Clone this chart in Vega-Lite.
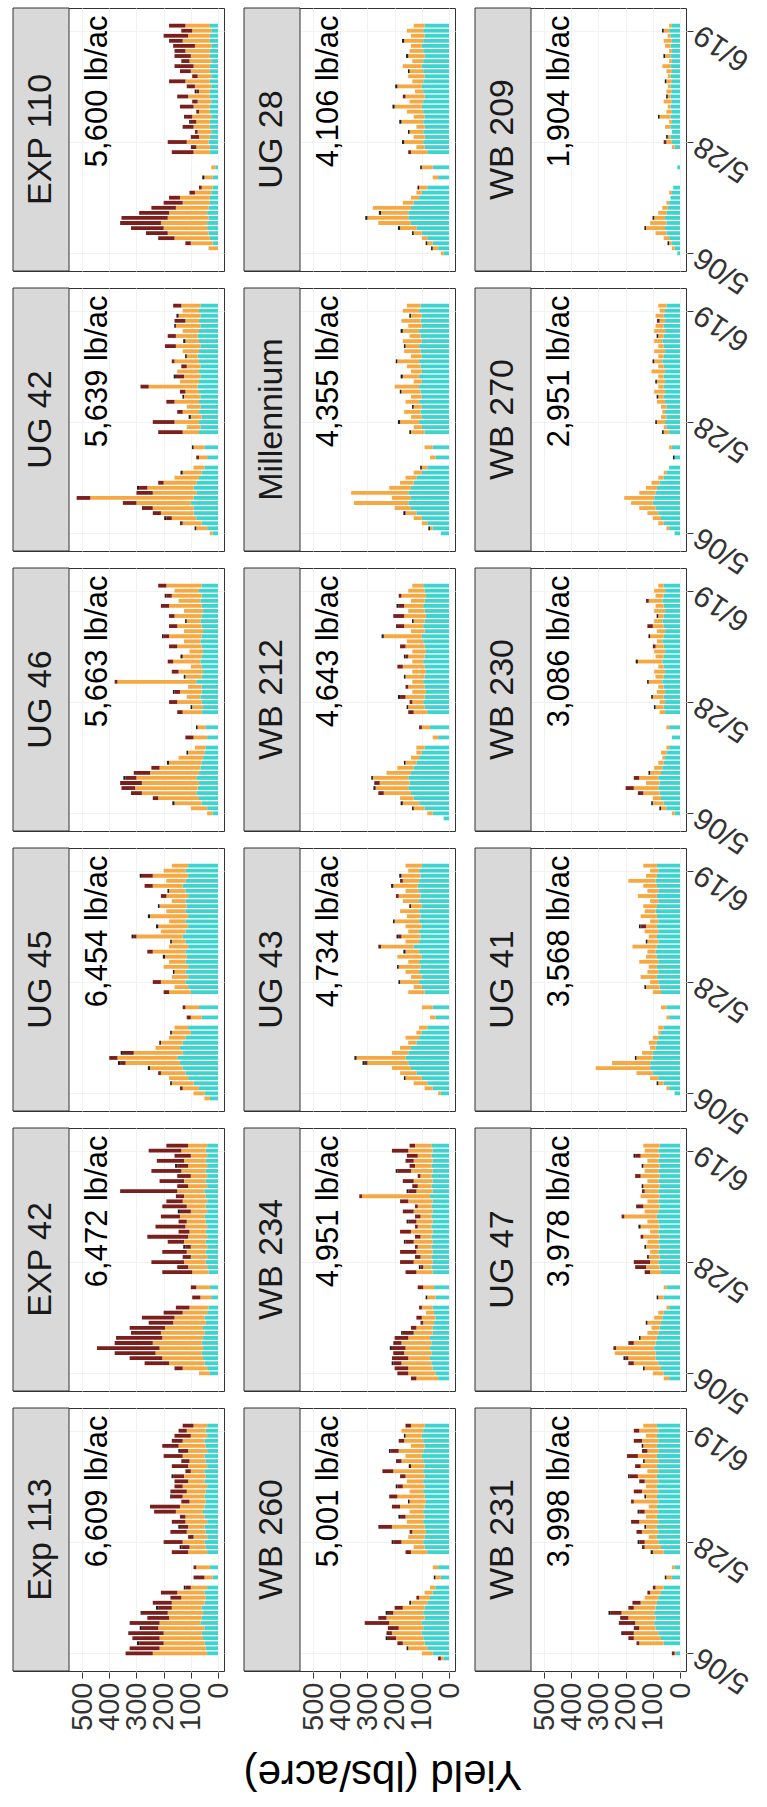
{
"$schema":"https://vega.github.io/schema/vega-lite/v6.json",
"background":"white",
"padding":{"left":12,"top":7,"right":5,"bottom":5},
"datasets":{
"panels":[
{"p":1,"name":"Exp 113","lab":"6,609 lb/ac","row":6,"col":1},
{"p":2,"name":"EXP 42","lab":"6,472 lb/ac","row":5,"col":1},
{"p":3,"name":"UG 45","lab":"6,454 lb/ac","row":4,"col":1},
{"p":4,"name":"UG 46","lab":"5,663 lb/ac","row":3,"col":1},
{"p":5,"name":"UG 42","lab":"5,639 lb/ac","row":2,"col":1},
{"p":6,"name":"EXP 110","lab":"5,600 lb/ac","row":1,"col":1},
{"p":7,"name":"WB 260","lab":"5,001 lb/ac","row":6,"col":2},
{"p":8,"name":"WB 234","lab":"4,951 lb/ac","row":5,"col":2},
{"p":9,"name":"UG 43","lab":"4,734 lb/ac","row":4,"col":2},
{"p":10,"name":"WB 212","lab":"4,643 lb/ac","row":3,"col":2},
{"p":11,"name":"Millennium","lab":"4,355 lb/ac","row":2,"col":2},
{"p":12,"name":"UG 28","lab":"4,106 lb/ac","row":1,"col":2},
{"p":13,"name":"WB 231","lab":"3,998 lb/ac","row":6,"col":3},
{"p":14,"name":"UG 47","lab":"3,978 lb/ac","row":5,"col":3},
{"p":15,"name":"UG 41","lab":"3,568 lb/ac","row":4,"col":3},
{"p":16,"name":"WB 230","lab":"3,086 lb/ac","row":3,"col":3},
{"p":17,"name":"WB 270","lab":"2,951 lb/ac","row":2,"col":3},
{"p":18,"name":"WB 209","lab":"1,904 lb/ac","row":1,"col":3}
],
"yield":[
{"p":1,"d":"2016-05-06","a":40,"b":200,"c":100},
{"p":1,"d":"2016-05-07","a":45,"b":170,"c":110},
{"p":1,"d":"2016-05-08","a":50,"b":150,"c":90,"k":8},
{"p":1,"d":"2016-05-09","a":55,"b":160,"c":100},
{"p":1,"d":"2016-05-10","a":60,"b":140,"c":130},
{"p":1,"d":"2016-05-11","a":50,"b":170,"c":60,"k":8},
{"p":1,"d":"2016-05-12","a":65,"b":150,"c":110},
{"p":1,"d":"2016-05-13","a":60,"b":120,"c":80},
{"p":1,"d":"2016-05-14","a":55,"b":130,"c":100},
{"p":1,"d":"2016-05-15","a":60,"b":110,"c":50,"k":8},
{"p":1,"d":"2016-05-16","a":50,"b":120,"c":70},
{"p":1,"d":"2016-05-17","a":45,"b":90,"c":40},
{"p":1,"d":"2016-05-18","a":50,"b":100,"c":60},
{"p":1,"d":"2016-05-19","a":40,"b":60,"c":20,"k":6},
{"p":1,"d":"2016-05-21","a":20,"b":30,"c":40},
{"p":1,"d":"2016-05-23","a":30,"b":50,"c":10},
{"p":1,"d":"2016-05-26","a":40,"b":70,"c":60},
{"p":1,"d":"2016-05-27","a":45,"b":60,"c":30,"k":6},
{"p":1,"d":"2016-05-28","a":50,"b":80,"c":70},
{"p":1,"d":"2016-05-29","a":40,"b":50,"c":20},
{"p":1,"d":"2016-05-30","a":45,"b":70,"c":60},
{"p":1,"d":"2016-05-31","a":50,"b":60,"c":30,"k":6},
{"p":1,"d":"2016-06-01","a":40,"b":80,"c":50},
{"p":1,"d":"2016-06-02","a":50,"b":70,"c":20},
{"p":1,"d":"2016-06-03","a":55,"b":100,"c":80},
{"p":1,"d":"2016-06-04","a":50,"b":90,"c":110},
{"p":1,"d":"2016-06-05","a":45,"b":60,"c":30},
{"p":1,"d":"2016-06-06","a":50,"b":80,"c":40,"k":6},
{"p":1,"d":"2016-06-07","a":45,"b":70,"c":60},
{"p":1,"d":"2016-06-08","a":40,"b":90,"c":30},
{"p":1,"d":"2016-06-09","a":50,"b":60,"c":50},
{"p":1,"d":"2016-06-10","a":45,"b":80,"c":40,"k":6},
{"p":1,"d":"2016-06-11","a":50,"b":50,"c":20},
{"p":1,"d":"2016-06-12","a":40,"b":70,"c":60},
{"p":1,"d":"2016-06-13","a":45,"b":60,"c":30},
{"p":1,"d":"2016-06-14","a":50,"b":80,"c":70},
{"p":1,"d":"2016-06-15","a":40,"b":70,"c":30,"k":6},
{"p":1,"d":"2016-06-16","a":45,"b":100,"c":60},
{"p":1,"d":"2016-06-17","a":50,"b":80,"c":40},
{"p":1,"d":"2016-06-18","a":40,"b":60,"c":60},
{"p":1,"d":"2016-06-19","a":45,"b":70,"c":30},
{"p":1,"d":"2016-06-20","a":40,"b":50,"c":40},
{"p":2,"d":"2016-05-06","a":30,"b":40},
{"p":2,"d":"2016-05-07","a":40,"b":90,"c":30},
{"p":2,"d":"2016-05-08","a":50,"b":130,"c":90},
{"p":2,"d":"2016-05-09","a":55,"b":150,"c":120},
{"p":2,"d":"2016-05-10","a":60,"b":170,"c":150},
{"p":2,"d":"2016-05-11","a":55,"b":160,"c":230},
{"p":2,"d":"2016-05-12","a":60,"b":180,"c":140},
{"p":2,"d":"2016-05-13","a":55,"b":150,"c":170},
{"p":2,"d":"2016-05-14","a":50,"b":160,"c":110},
{"p":2,"d":"2016-05-15","a":55,"b":140,"c":130},
{"p":2,"d":"2016-05-16","a":45,"b":120,"c":90},
{"p":2,"d":"2016-05-17","a":50,"b":110,"c":120},
{"p":2,"d":"2016-05-18","a":40,"b":90,"c":70},
{"p":2,"d":"2016-05-19","a":35,"b":70,"c":50},
{"p":2,"d":"2016-05-21","a":25,"b":40,"c":30},
{"p":2,"d":"2016-05-23","a":30,"b":50,"c":20},
{"p":2,"d":"2016-05-26","a":35,"b":60,"c":110},
{"p":2,"d":"2016-05-27","a":40,"b":70,"c":40},
{"p":2,"d":"2016-05-28","a":45,"b":80,"c":120},
{"p":2,"d":"2016-05-29","a":40,"b":60,"c":30},
{"p":2,"d":"2016-05-30","a":45,"b":70,"c":90},
{"p":2,"d":"2016-05-31","a":40,"b":60,"c":20,"k":8},
{"p":2,"d":"2016-06-01","a":45,"b":80,"c":60},
{"p":2,"d":"2016-06-02","a":40,"b":70,"c":150},
{"p":2,"d":"2016-06-03","a":45,"b":60,"c":40},
{"p":2,"d":"2016-06-04","a":40,"b":80,"c":110},
{"p":2,"d":"2016-06-05","a":45,"b":70,"c":30},
{"p":2,"d":"2016-06-06","a":50,"b":90,"c":70},
{"p":2,"d":"2016-06-07","a":40,"b":60,"c":40,"k":8},
{"p":2,"d":"2016-06-08","a":45,"b":70,"c":90},
{"p":2,"d":"2016-06-09","a":40,"b":90,"c":60},
{"p":2,"d":"2016-06-10","a":45,"b":80,"c":30},
{"p":2,"d":"2016-06-11","a":50,"b":100,"c":210},
{"p":2,"d":"2016-06-12","a":40,"b":70,"c":40},
{"p":2,"d":"2016-06-13","a":45,"b":80,"c":90},
{"p":2,"d":"2016-06-14","a":40,"b":60,"c":50},
{"p":2,"d":"2016-06-15","a":45,"b":90,"c":110},
{"p":2,"d":"2016-06-16","a":40,"b":70,"c":40,"k":8},
{"p":2,"d":"2016-06-17","a":45,"b":80,"c":100},
{"p":2,"d":"2016-06-18","a":40,"b":60,"c":60},
{"p":2,"d":"2016-06-19","a":45,"b":90,"c":120},
{"p":2,"d":"2016-06-20","a":40,"b":70,"c":80},
{"p":3,"d":"2016-05-05","a":30,"b":20},
{"p":3,"d":"2016-05-06","a":50,"b":40},
{"p":3,"d":"2016-05-07","a":70,"b":60,"c":10},
{"p":3,"d":"2016-05-08","a":90,"b":80,"k":6},
{"p":3,"d":"2016-05-09","a":110,"b":70},
{"p":3,"d":"2016-05-10","a":120,"b":90,"c":10},
{"p":3,"d":"2016-05-11","a":130,"b":120,"k":8},
{"p":3,"d":"2016-05-12","a":140,"b":200,"c":20,"k":8},
{"p":3,"d":"2016-05-13","a":150,"b":220,"c":30},
{"p":3,"d":"2016-05-14","a":130,"b":180,"c":40,"k":8},
{"p":3,"d":"2016-05-15","a":140,"b":90},
{"p":3,"d":"2016-05-16","a":130,"b":80,"k":6},
{"p":3,"d":"2016-05-17","a":120,"b":60},
{"p":3,"d":"2016-05-18","a":100,"b":70,"k":6},
{"p":3,"d":"2016-05-19","a":110,"b":50},
{"p":3,"d":"2016-05-21","a":60,"b":40,"c":15},
{"p":3,"d":"2016-05-23","a":70,"b":50,"c":10},
{"p":3,"d":"2016-05-26","a":100,"b":80,"c":20},
{"p":3,"d":"2016-05-27","a":110,"b":50},
{"p":3,"d":"2016-05-28","a":120,"b":90,"c":30},
{"p":3,"d":"2016-05-29","a":110,"b":60},
{"p":3,"d":"2016-05-30","a":120,"b":40,"k":6},
{"p":3,"d":"2016-05-31","a":110,"b":90},
{"p":3,"d":"2016-06-01","a":120,"b":60},
{"p":3,"d":"2016-06-02","a":115,"b":80,"k":8},
{"p":3,"d":"2016-06-03","a":120,"b":120,"c":20},
{"p":3,"d":"2016-06-04","a":110,"b":70},
{"p":3,"d":"2016-06-05","a":120,"b":50,"k":6},
{"p":3,"d":"2016-06-06","a":130,"b":170,"c":10,"k":8},
{"p":3,"d":"2016-06-07","a":120,"b":90},
{"p":3,"d":"2016-06-08","a":110,"b":110,"k":8},
{"p":3,"d":"2016-06-09","a":120,"b":60},
{"p":3,"d":"2016-06-10","a":110,"b":140,"k":8},
{"p":3,"d":"2016-06-11","a":120,"b":70},
{"p":3,"d":"2016-06-12","a":115,"b":100,"k":6},
{"p":3,"d":"2016-06-13","a":120,"b":50},
{"p":3,"d":"2016-06-14","a":110,"b":80,"c":20},
{"p":3,"d":"2016-06-15","a":120,"b":60,"k":6},
{"p":3,"d":"2016-06-16","a":130,"b":110,"c":30},
{"p":3,"d":"2016-06-17","a":120,"b":70},
{"p":3,"d":"2016-06-18","a":110,"b":130,"c":40,"k":8},
{"p":3,"d":"2016-06-19","a":120,"b":80},
{"p":3,"d":"2016-06-20","a":110,"b":60},
{"p":4,"d":"2016-05-06","a":20,"b":20},
{"p":4,"d":"2016-05-07","a":40,"b":60},
{"p":4,"d":"2016-05-08","a":60,"b":100,"k":8},
{"p":4,"d":"2016-05-09","a":70,"b":150,"c":20},
{"p":4,"d":"2016-05-10","a":80,"b":200,"c":40},
{"p":4,"d":"2016-05-11","a":75,"b":230,"c":50},
{"p":4,"d":"2016-05-12","a":70,"b":210,"c":80},
{"p":4,"d":"2016-05-13","a":80,"b":220,"c":40,"k":8},
{"p":4,"d":"2016-05-14","a":70,"b":180,"c":60},
{"p":4,"d":"2016-05-15","a":65,"b":150,"c":30},
{"p":4,"d":"2016-05-16","a":60,"b":120,"k":8},
{"p":4,"d":"2016-05-17","a":55,"b":90},
{"p":4,"d":"2016-05-18","a":50,"b":60,"k":6},
{"p":4,"d":"2016-05-19","a":45,"b":40},
{"p":4,"d":"2016-05-21","a":40,"b":50,"c":30},
{"p":4,"d":"2016-05-23","a":45,"b":30,"k":6},
{"p":4,"d":"2016-05-26","a":60,"b":70,"c":20},
{"p":4,"d":"2016-05-27","a":55,"b":40,"k":6},
{"p":4,"d":"2016-05-28","a":60,"b":90,"c":30},
{"p":4,"d":"2016-05-29","a":65,"b":50},
{"p":4,"d":"2016-05-30","a":60,"b":80,"c":20,"k":6},
{"p":4,"d":"2016-05-31","a":60,"b":50},
{"p":4,"d":"2016-06-01","a":80,"b":290,"c":10},
{"p":4,"d":"2016-06-02","a":60,"b":60,"k":6},
{"p":4,"d":"2016-06-03","a":55,"b":90,"c":25},
{"p":4,"d":"2016-06-04","a":60,"b":40},
{"p":4,"d":"2016-06-05","a":65,"b":100,"c":20},
{"p":4,"d":"2016-06-06","a":60,"b":70,"k":8},
{"p":4,"d":"2016-06-07","a":55,"b":50},
{"p":4,"d":"2016-06-08","a":60,"b":90,"c":30},
{"p":4,"d":"2016-06-09","a":65,"b":60},
{"p":4,"d":"2016-06-10","a":60,"b":120,"c":20,"k":6},
{"p":4,"d":"2016-06-11","a":55,"b":70},
{"p":4,"d":"2016-06-12","a":60,"b":90,"c":30},
{"p":4,"d":"2016-06-13","a":65,"b":50,"k":6},
{"p":4,"d":"2016-06-14","a":60,"b":100,"c":20},
{"p":4,"d":"2016-06-15","a":55,"b":70},
{"p":4,"d":"2016-06-16","a":60,"b":120,"c":30},
{"p":4,"d":"2016-06-17","a":65,"b":80},
{"p":4,"d":"2016-06-18","a":60,"b":110,"c":20,"k":6},
{"p":4,"d":"2016-06-19","a":70,"b":90},
{"p":4,"d":"2016-06-20","a":60,"b":130,"c":30},
{"p":5,"d":"2016-05-06","a":20,"b":10},
{"p":5,"d":"2016-05-07","a":40,"b":40,"k":6},
{"p":5,"d":"2016-05-08","a":60,"b":70,"c":10},
{"p":5,"d":"2016-05-09","a":80,"b":90,"c":20,"k":8},
{"p":5,"d":"2016-05-10","a":90,"b":120,"c":30},
{"p":5,"d":"2016-05-11","a":90,"b":150,"c":40},
{"p":5,"d":"2016-05-12","a":100,"b":200,"c":50},
{"p":5,"d":"2016-05-13","a":90,"b":380,"c":50},
{"p":5,"d":"2016-05-14","a":80,"b":160,"c":60},
{"p":5,"d":"2016-05-15","a":90,"b":170,"c":30,"k":8},
{"p":5,"d":"2016-05-16","a":80,"b":120,"c":20},
{"p":5,"d":"2016-05-17","a":70,"b":90},
{"p":5,"d":"2016-05-18","a":60,"b":70,"k":8},
{"p":5,"d":"2016-05-19","a":50,"b":40},
{"p":5,"d":"2016-05-21","a":40,"b":30,"c":10},
{"p":5,"d":"2016-05-23","a":50,"b":40,"k":6},
{"p":5,"d":"2016-05-26","a":70,"b":60,"c":90},
{"p":5,"d":"2016-05-27","a":65,"b":50},
{"p":5,"d":"2016-05-28","a":70,"b":90,"c":80},
{"p":5,"d":"2016-05-29","a":60,"b":40,"k":8},
{"p":5,"d":"2016-05-30","a":70,"b":60,"c":20},
{"p":5,"d":"2016-05-31","a":65,"b":50},
{"p":5,"d":"2016-06-01","a":70,"b":90,"c":30},
{"p":5,"d":"2016-06-02","a":65,"b":60,"k":6},
{"p":5,"d":"2016-06-03","a":70,"b":50,"c":20},
{"p":5,"d":"2016-06-04","a":75,"b":180,"c":30},
{"p":5,"d":"2016-06-05","a":70,"b":70},
{"p":5,"d":"2016-06-06","a":65,"b":60,"c":30,"k":8},
{"p":5,"d":"2016-06-07","a":70,"b":80},
{"p":5,"d":"2016-06-08","a":65,"b":50,"c":20},
{"p":5,"d":"2016-06-09","a":70,"b":90,"c":10},
{"p":5,"d":"2016-06-10","a":75,"b":40,"k":6},
{"p":5,"d":"2016-06-11","a":70,"b":60},
{"p":5,"d":"2016-06-12","a":65,"b":90,"c":40},
{"p":5,"d":"2016-06-13","a":70,"b":50,"k":8},
{"p":5,"d":"2016-06-14","a":75,"b":80,"c":30},
{"p":5,"d":"2016-06-15","a":70,"b":60},
{"p":5,"d":"2016-06-16","a":65,"b":90,"k":6},
{"p":5,"d":"2016-06-17","a":70,"b":50,"c":40},
{"p":5,"d":"2016-06-18","a":65,"b":80,"k":8},
{"p":5,"d":"2016-06-19","a":70,"b":60},
{"p":5,"d":"2016-06-20","a":65,"b":70,"c":30},
{"p":6,"d":"2016-05-07","b":35},
{"p":6,"d":"2016-05-08","a":20,"b":80,"c":20},
{"p":6,"d":"2016-05-09","a":30,"b":130,"c":60},
{"p":6,"d":"2016-05-10","a":35,"b":150,"c":80},
{"p":6,"d":"2016-05-11","a":40,"b":160,"c":120},
{"p":6,"d":"2016-05-12","a":40,"b":170,"c":150},
{"p":6,"d":"2016-05-13","a":35,"b":150,"c":170},
{"p":6,"d":"2016-05-14","a":40,"b":140,"c":110},
{"p":6,"d":"2016-05-15","a":35,"b":120,"c":90},
{"p":6,"d":"2016-05-16","a":30,"b":100,"c":70},
{"p":6,"d":"2016-05-17","a":30,"b":110,"c":40},
{"p":6,"d":"2016-05-18","a":25,"b":60,"c":20},
{"p":6,"d":"2016-05-19","a":20,"b":40,"c":10},
{"p":6,"d":"2016-05-21","a":20,"b":30,"k":8},
{"p":6,"d":"2016-05-23","a":10,"b":15},
{"p":6,"d":"2016-05-26","a":30,"b":60,"c":80},
{"p":6,"d":"2016-05-27","a":30,"b":50,"c":20},
{"p":6,"d":"2016-05-28","a":35,"b":80,"c":70},
{"p":6,"d":"2016-05-29","a":30,"b":40,"c":30},
{"p":6,"d":"2016-05-30","a":25,"b":50,"c":10},
{"p":6,"d":"2016-05-31","a":30,"b":60,"c":40},
{"p":6,"d":"2016-06-01","a":30,"b":50,"c":20,"k":6},
{"p":6,"d":"2016-06-02","a":25,"b":70,"c":30},
{"p":6,"d":"2016-06-03","a":30,"b":40,"c":10},
{"p":6,"d":"2016-06-04","a":30,"b":60,"c":50},
{"p":6,"d":"2016-06-05","a":25,"b":50,"c":20},
{"p":6,"d":"2016-06-06","a":30,"b":80,"c":40},
{"p":6,"d":"2016-06-07","a":30,"b":40,"c":10,"k":6},
{"p":6,"d":"2016-06-08","a":25,"b":60,"c":30},
{"p":6,"d":"2016-06-09","a":30,"b":90,"c":60},
{"p":6,"d":"2016-06-10","a":25,"b":50,"c":20},
{"p":6,"d":"2016-06-11","a":30,"b":70,"c":40},
{"p":6,"d":"2016-06-12","a":30,"b":60,"c":70},
{"p":6,"d":"2016-06-13","a":25,"b":80,"c":30},
{"p":6,"d":"2016-06-14","a":30,"b":70,"c":60},
{"p":6,"d":"2016-06-15","a":30,"b":90,"c":40},
{"p":6,"d":"2016-06-16","a":25,"b":60,"c":80},
{"p":6,"d":"2016-06-17","a":30,"b":100,"c":50},
{"p":6,"d":"2016-06-18","a":30,"b":80,"c":90},
{"p":6,"d":"2016-06-19","a":25,"b":70,"c":40},
{"p":6,"d":"2016-06-20","a":30,"b":90,"c":60},
{"p":7,"d":"2016-05-05","a":20,"b":10,"c":10},
{"p":7,"d":"2016-05-06","a":60,"b":40},
{"p":7,"d":"2016-05-07","a":80,"b":70,"k":6},
{"p":7,"d":"2016-05-08","a":90,"b":80,"c":20},
{"p":7,"d":"2016-05-09","a":95,"b":100,"c":30,"k":8},
{"p":7,"d":"2016-05-10","a":100,"b":110,"c":20},
{"p":7,"d":"2016-05-11","a":95,"b":90,"c":40},
{"p":7,"d":"2016-05-12","a":100,"b":120,"c":90},
{"p":7,"d":"2016-05-13","a":90,"b":140,"c":30},
{"p":7,"d":"2016-05-14","a":95,"b":110,"c":20,"k":8},
{"p":7,"d":"2016-05-15","a":90,"b":80,"c":30},
{"p":7,"d":"2016-05-16","a":80,"b":60,"k":6},
{"p":7,"d":"2016-05-17","a":70,"b":40,"c":10},
{"p":7,"d":"2016-05-18","a":60,"b":30},
{"p":7,"d":"2016-05-19","a":50,"b":20},
{"p":7,"d":"2016-05-21","a":30,"b":20,"k":6},
{"p":7,"d":"2016-05-23","a":40,"b":20},
{"p":7,"d":"2016-05-26","a":80,"b":60,"c":20},
{"p":7,"d":"2016-05-27","a":90,"b":40},
{"p":7,"d":"2016-05-28","a":95,"b":80,"c":30,"k":6},
{"p":7,"d":"2016-05-29","a":90,"b":60},
{"p":7,"d":"2016-05-30","a":85,"b":50,"c":10},
{"p":7,"d":"2016-05-31","a":90,"b":120,"c":50},
{"p":7,"d":"2016-06-01","a":95,"b":60},
{"p":7,"d":"2016-06-02","a":90,"b":70,"c":20,"k":6},
{"p":7,"d":"2016-06-03","a":95,"b":50},
{"p":7,"d":"2016-06-04","a":90,"b":90,"c":30},
{"p":7,"d":"2016-06-05","a":85,"b":60,"k":6},
{"p":7,"d":"2016-06-06","a":90,"b":100,"c":30},
{"p":7,"d":"2016-06-07","a":95,"b":50},
{"p":7,"d":"2016-06-08","a":90,"b":80,"c":20,"k":6},
{"p":7,"d":"2016-06-09","a":95,"b":60},
{"p":7,"d":"2016-06-10","a":90,"b":70,"c":20},
{"p":7,"d":"2016-06-11","a":95,"b":110,"c":40},
{"p":7,"d":"2016-06-12","a":90,"b":50,"k":8},
{"p":7,"d":"2016-06-13","a":95,"b":80,"c":20},
{"p":7,"d":"2016-06-14","a":100,"b":60},
{"p":7,"d":"2016-06-15","a":95,"b":90,"c":30,"k":6},
{"p":7,"d":"2016-06-16","a":90,"b":50},
{"p":7,"d":"2016-06-17","a":95,"b":70,"c":20},
{"p":7,"d":"2016-06-18","a":100,"b":60,"k":6},
{"p":7,"d":"2016-06-19","a":95,"b":80},
{"p":7,"d":"2016-06-20","a":90,"b":50,"c":20},
{"p":8,"d":"2016-05-05","a":40,"b":80,"c":20},
{"p":8,"d":"2016-05-06","a":50,"b":100,"c":40},
{"p":8,"d":"2016-05-07","a":60,"b":90,"c":50},
{"p":8,"d":"2016-05-08","a":65,"b":110,"c":30,"k":6},
{"p":8,"d":"2016-05-09","a":70,"b":80,"c":60},
{"p":8,"d":"2016-05-10","a":65,"b":100,"c":40},
{"p":8,"d":"2016-05-11","a":70,"b":90,"c":50,"k":8},
{"p":8,"d":"2016-05-12","a":65,"b":110,"c":30},
{"p":8,"d":"2016-05-13","a":70,"b":80,"c":50},
{"p":8,"d":"2016-05-14","a":60,"b":70,"c":40,"k":6},
{"p":8,"d":"2016-05-15","a":60,"b":60,"c":20},
{"p":8,"d":"2016-05-16","a":55,"b":40,"c":10},
{"p":8,"d":"2016-05-17","a":50,"b":50,"c":20},
{"p":8,"d":"2016-05-18","a":55,"b":30},
{"p":8,"d":"2016-05-19","a":60,"b":40,"c":10},
{"p":8,"d":"2016-05-21","a":50,"b":30,"k":6},
{"p":8,"d":"2016-05-23","a":55,"b":40,"c":20},
{"p":8,"d":"2016-05-26","a":60,"b":60,"c":40},
{"p":8,"d":"2016-05-27","a":65,"b":30,"c":10,"k":6},
{"p":8,"d":"2016-05-28","a":60,"b":70,"c":50},
{"p":8,"d":"2016-05-29","a":65,"b":40,"c":20},
{"p":8,"d":"2016-05-30","a":60,"b":60,"c":60},
{"p":8,"d":"2016-05-31","a":65,"b":50,"c":10},
{"p":8,"d":"2016-06-01","a":60,"b":70,"c":30,"k":6},
{"p":8,"d":"2016-06-02","a":65,"b":40,"c":20},
{"p":8,"d":"2016-06-03","a":60,"b":80,"c":40},
{"p":8,"d":"2016-06-04","a":65,"b":50,"c":10},
{"p":8,"d":"2016-06-05","a":60,"b":60,"c":30,"k":6},
{"p":8,"d":"2016-06-06","a":65,"b":40,"c":20},
{"p":8,"d":"2016-06-07","a":60,"b":70,"c":40},
{"p":8,"d":"2016-06-08","a":65,"b":50,"c":10},
{"p":8,"d":"2016-06-09","a":60,"b":90,"c":30},
{"p":8,"d":"2016-06-10","a":70,"b":250,"c":10},
{"p":8,"d":"2016-06-11","a":60,"b":60,"c":30,"k":6},
{"p":8,"d":"2016-06-12","a":65,"b":50,"c":20},
{"p":8,"d":"2016-06-13","a":60,"b":70,"c":40},
{"p":8,"d":"2016-06-14","a":65,"b":40,"c":10},
{"p":8,"d":"2016-06-15","a":60,"b":80,"c":50,"k":6},
{"p":8,"d":"2016-06-16","a":65,"b":60,"c":20},
{"p":8,"d":"2016-06-17","a":60,"b":70,"c":30},
{"p":8,"d":"2016-06-18","a":65,"b":50,"c":40},
{"p":8,"d":"2016-06-19","a":60,"b":90,"c":60},
{"p":8,"d":"2016-06-20","a":65,"b":60,"c":20},
{"p":9,"d":"2016-05-06","a":30,"b":10},
{"p":9,"d":"2016-05-07","a":60,"b":30},
{"p":9,"d":"2016-05-08","a":80,"b":50},
{"p":9,"d":"2016-05-09","a":100,"b":60,"k":6},
{"p":9,"d":"2016-05-10","a":120,"b":60},
{"p":9,"d":"2016-05-11","a":140,"b":70},
{"p":9,"d":"2016-05-12","a":150,"b":150,"c":10,"k":8},
{"p":9,"d":"2016-05-13","a":160,"b":180,"k":8},
{"p":9,"d":"2016-05-14","a":150,"b":60},
{"p":9,"d":"2016-05-15","a":140,"b":40},
{"p":9,"d":"2016-05-16","a":120,"b":30},
{"p":9,"d":"2016-05-17","a":110,"b":50},
{"p":9,"d":"2016-05-18","a":100,"b":20},
{"p":9,"d":"2016-05-19","a":80,"b":30},
{"p":9,"d":"2016-05-21","a":50,"b":20},
{"p":9,"d":"2016-05-23","a":60,"b":40},
{"p":9,"d":"2016-05-26","a":90,"b":60},
{"p":9,"d":"2016-05-27","a":100,"b":30},
{"p":9,"d":"2016-05-28","a":110,"b":70,"k":6},
{"p":9,"d":"2016-05-29","a":100,"b":40},
{"p":9,"d":"2016-05-30","a":110,"b":50},
{"p":9,"d":"2016-05-31","a":105,"b":80,"k":6},
{"p":9,"d":"2016-06-01","a":110,"b":40},
{"p":9,"d":"2016-06-02","a":100,"b":90},
{"p":9,"d":"2016-06-03","a":110,"b":50,"k":8},
{"p":9,"d":"2016-06-04","a":130,"b":120,"c":10},
{"p":9,"d":"2016-06-05","a":110,"b":50},
{"p":9,"d":"2016-06-06","a":105,"b":70,"c":10,"k":8},
{"p":9,"d":"2016-06-07","a":110,"b":40},
{"p":9,"d":"2016-06-08","a":100,"b":60},
{"p":9,"d":"2016-06-09","a":110,"b":90,"k":6},
{"p":9,"d":"2016-06-10","a":105,"b":50},
{"p":9,"d":"2016-06-11","a":110,"b":70},
{"p":9,"d":"2016-06-12","a":100,"b":40,"k":6},
{"p":9,"d":"2016-06-13","a":110,"b":60},
{"p":9,"d":"2016-06-14","a":105,"b":80,"c":10},
{"p":9,"d":"2016-06-15","a":110,"b":50},
{"p":9,"d":"2016-06-16","a":115,"b":90,"k":8},
{"p":9,"d":"2016-06-17","a":110,"b":60,"c":10},
{"p":9,"d":"2016-06-18","a":105,"b":70,"k":8},
{"p":9,"d":"2016-06-19","a":110,"b":40},
{"p":9,"d":"2016-06-20","a":100,"b":60},
{"p":10,"d":"2016-05-05","a":20},
{"p":10,"d":"2016-05-06","a":60,"b":20},
{"p":10,"d":"2016-05-07","a":90,"b":40,"k":6},
{"p":10,"d":"2016-05-08","a":110,"b":60,"k":8},
{"p":10,"d":"2016-05-09","a":130,"b":50},
{"p":10,"d":"2016-05-10","a":140,"b":100,"c":20},
{"p":10,"d":"2016-05-11","a":150,"b":120,"k":8},
{"p":10,"d":"2016-05-12","a":145,"b":110,"c":20},
{"p":10,"d":"2016-05-13","a":150,"b":130,"k":6},
{"p":10,"d":"2016-05-14","a":140,"b":90},
{"p":10,"d":"2016-05-15","a":130,"b":60},
{"p":10,"d":"2016-05-16","a":120,"b":40,"k":6},
{"p":10,"d":"2016-05-17","a":110,"b":30},
{"p":10,"d":"2016-05-18","a":100,"b":20},
{"p":10,"d":"2016-05-19","a":90,"b":30},
{"p":10,"d":"2016-05-21","a":40,"b":20},
{"p":10,"d":"2016-05-23","a":70,"b":30,"c":10},
{"p":10,"d":"2016-05-26","a":80,"b":50,"c":20},
{"p":10,"d":"2016-05-27","a":90,"b":60,"k":6},
{"p":10,"d":"2016-05-28","a":95,"b":40,"c":10},
{"p":10,"d":"2016-05-29","a":90,"b":70,"c":20,"k":8},
{"p":10,"d":"2016-05-30","a":85,"b":50},
{"p":10,"d":"2016-05-31","a":90,"b":60,"c":10},
{"p":10,"d":"2016-06-01","a":95,"b":40},
{"p":10,"d":"2016-06-02","a":90,"b":70,"k":6},
{"p":10,"d":"2016-06-03","a":85,"b":50},
{"p":10,"d":"2016-06-04","a":90,"b":80,"c":20},
{"p":10,"d":"2016-06-05","a":95,"b":40},
{"p":10,"d":"2016-06-06","a":90,"b":60,"c":10,"k":6},
{"p":10,"d":"2016-06-07","a":85,"b":50},
{"p":10,"d":"2016-06-08","a":90,"b":70,"c":20},
{"p":10,"d":"2016-06-09","a":95,"b":60},
{"p":10,"d":"2016-06-10","a":100,"b":140,"k":8},
{"p":10,"d":"2016-06-11","a":90,"b":50},
{"p":10,"d":"2016-06-12","a":95,"b":70,"c":30},
{"p":10,"d":"2016-06-13","a":90,"b":40,"k":6},
{"p":10,"d":"2016-06-14","a":85,"b":80,"c":40},
{"p":10,"d":"2016-06-15","a":90,"b":60},
{"p":10,"d":"2016-06-16","a":95,"b":70,"c":20,"k":8},
{"p":10,"d":"2016-06-17","a":90,"b":50},
{"p":10,"d":"2016-06-18","a":85,"b":90,"c":10},
{"p":10,"d":"2016-06-19","a":90,"b":60},
{"p":10,"d":"2016-06-20","a":95,"b":40},
{"p":11,"d":"2016-05-06","a":30},
{"p":11,"d":"2016-05-07","a":60,"b":10,"k":6},
{"p":11,"d":"2016-05-08","a":80,"b":20},
{"p":11,"d":"2016-05-09","a":100,"b":30},
{"p":11,"d":"2016-05-10","a":120,"b":40,"k":8},
{"p":11,"d":"2016-05-11","a":140,"b":60},
{"p":11,"d":"2016-05-12","a":150,"b":200},
{"p":11,"d":"2016-05-13","a":140,"b":70},
{"p":11,"d":"2016-05-14","a":150,"b":210},
{"p":11,"d":"2016-05-15","a":140,"b":80},
{"p":11,"d":"2016-05-16","a":130,"b":50},
{"p":11,"d":"2016-05-17","a":120,"b":40},
{"p":11,"d":"2016-05-18","a":100,"b":30},
{"p":11,"d":"2016-05-19","a":80,"b":20,"k":6},
{"p":11,"d":"2016-05-21","a":50,"b":20},
{"p":11,"d":"2016-05-23","a":60,"b":30},
{"p":11,"d":"2016-05-26","a":90,"b":50,"k":6},
{"p":11,"d":"2016-05-27","a":100,"b":30},
{"p":11,"d":"2016-05-28","a":110,"b":70,"k":8},
{"p":11,"d":"2016-05-29","a":100,"b":40},
{"p":11,"d":"2016-05-30","a":105,"b":60},
{"p":11,"d":"2016-05-31","a":100,"b":30,"k":6},
{"p":11,"d":"2016-06-01","a":110,"b":50},
{"p":11,"d":"2016-06-02","a":100,"b":40},
{"p":11,"d":"2016-06-03","a":105,"b":70,"k":6},
{"p":11,"d":"2016-06-04","a":110,"b":90},
{"p":11,"d":"2016-06-05","a":100,"b":30},
{"p":11,"d":"2016-06-06","a":110,"b":60,"k":8},
{"p":11,"d":"2016-06-07","a":100,"b":40},
{"p":11,"d":"2016-06-08","a":105,"b":50},
{"p":11,"d":"2016-06-09","a":110,"b":80,"k":6},
{"p":11,"d":"2016-06-10","a":100,"b":40},
{"p":11,"d":"2016-06-11","a":105,"b":60},
{"p":11,"d":"2016-06-12","a":110,"b":50,"k":6},
{"p":11,"d":"2016-06-13","a":100,"b":70},
{"p":11,"d":"2016-06-14","a":105,"b":40},
{"p":11,"d":"2016-06-15","a":110,"b":60,"k":8},
{"p":11,"d":"2016-06-16","a":100,"b":50},
{"p":11,"d":"2016-06-17","a":105,"b":70},
{"p":11,"d":"2016-06-18","a":100,"b":40,"k":6},
{"p":11,"d":"2016-06-19","a":110,"b":60},
{"p":11,"d":"2016-06-20","a":105,"b":50},
{"p":12,"d":"2016-05-06","a":20,"b":10},
{"p":12,"d":"2016-05-07","a":40,"b":20,"k":6},
{"p":12,"d":"2016-05-08","a":60,"b":20,"k":6},
{"p":12,"d":"2016-05-09","a":80,"b":20},
{"p":12,"d":"2016-05-10","a":100,"b":30,"k":6},
{"p":12,"d":"2016-05-11","a":120,"b":60,"k":8},
{"p":12,"d":"2016-05-12","a":140,"b":120},
{"p":12,"d":"2016-05-13","a":150,"b":150,"k":8},
{"p":12,"d":"2016-05-14","a":150,"b":100,"k":8},
{"p":12,"d":"2016-05-15","a":140,"b":140},
{"p":12,"d":"2016-05-16","a":130,"b":40},
{"p":12,"d":"2016-05-17","a":110,"b":30},
{"p":12,"d":"2016-05-18","a":100,"b":20},
{"p":12,"d":"2016-05-19","a":80,"b":30,"k":6},
{"p":12,"d":"2016-05-21","a":40,"b":20},
{"p":12,"d":"2016-05-23","a":60,"b":40,"k":6},
{"p":12,"d":"2016-05-26","a":80,"b":60,"c":10},
{"p":12,"d":"2016-05-27","a":90,"b":30},
{"p":12,"d":"2016-05-28","a":95,"b":70,"k":8},
{"p":12,"d":"2016-05-29","a":90,"b":40},
{"p":12,"d":"2016-05-30","a":95,"b":50,"k":6},
{"p":12,"d":"2016-05-31","a":90,"b":30},
{"p":12,"d":"2016-06-01","a":95,"b":80,"k":8},
{"p":12,"d":"2016-06-02","a":90,"b":40},
{"p":12,"d":"2016-06-03","a":95,"b":60},
{"p":12,"d":"2016-06-04","a":100,"b":100,"k":8},
{"p":12,"d":"2016-06-05","a":95,"b":50},
{"p":12,"d":"2016-06-06","a":90,"b":70,"c":10},
{"p":12,"d":"2016-06-07","a":95,"b":30},
{"p":12,"d":"2016-06-08","a":100,"b":90,"k":8},
{"p":12,"d":"2016-06-09","a":95,"b":40},
{"p":12,"d":"2016-06-10","a":90,"b":60},
{"p":12,"d":"2016-06-11","a":95,"b":50,"k":6},
{"p":12,"d":"2016-06-12","a":100,"b":70},
{"p":12,"d":"2016-06-13","a":95,"b":40},
{"p":12,"d":"2016-06-14","a":90,"b":60,"k":8},
{"p":12,"d":"2016-06-15","a":95,"b":50},
{"p":12,"d":"2016-06-16","a":100,"b":40},
{"p":12,"d":"2016-06-17","a":95,"b":70,"k":8},
{"p":12,"d":"2016-06-18","a":90,"b":50},
{"p":12,"d":"2016-06-19","a":95,"b":60},
{"p":12,"d":"2016-06-20","a":90,"b":40},
{"p":13,"d":"2016-05-06","a":15,"b":5,"c":10},
{"p":13,"d":"2016-05-08","a":60,"b":90,"c":10},
{"p":13,"d":"2016-05-09","a":70,"b":100,"c":20},
{"p":13,"d":"2016-05-10","a":80,"b":90,"c":40,"k":6},
{"p":13,"d":"2016-05-11","a":90,"b":60,"c":20},
{"p":13,"d":"2016-05-12","a":95,"b":70,"c":60},
{"p":13,"d":"2016-05-13","a":90,"b":100,"c":30},
{"p":13,"d":"2016-05-14","a":95,"b":120,"c":40,"k":8},
{"p":13,"d":"2016-05-15","a":90,"b":80,"c":20},
{"p":13,"d":"2016-05-16","a":85,"b":60,"c":30},
{"p":13,"d":"2016-05-17","a":80,"b":50},
{"p":13,"d":"2016-05-18","a":70,"b":40,"c":10},
{"p":13,"d":"2016-05-19","a":60,"b":30,"c":10},
{"p":13,"d":"2016-05-21","a":30,"b":20,"k":6},
{"p":13,"d":"2016-05-23","a":20,"b":10},
{"p":13,"d":"2016-05-26","a":60,"b":40,"k":8},
{"p":13,"d":"2016-05-27","a":70,"b":60,"c":10},
{"p":13,"d":"2016-05-28","a":80,"b":50,"c":20,"k":6},
{"p":13,"d":"2016-05-29","a":85,"b":30},
{"p":13,"d":"2016-05-30","a":80,"b":60,"c":20},
{"p":13,"d":"2016-05-31","a":85,"b":40,"k":6},
{"p":13,"d":"2016-06-01","a":80,"b":70,"c":30},
{"p":13,"d":"2016-06-02","a":85,"b":40},
{"p":13,"d":"2016-06-03","a":80,"b":50,"c":20,"k":6},
{"p":13,"d":"2016-06-04","a":85,"b":30},
{"p":13,"d":"2016-06-05","a":80,"b":90,"c":10},
{"p":13,"d":"2016-06-06","a":85,"b":40,"k":6},
{"p":13,"d":"2016-06-07","a":80,"b":60,"c":30},
{"p":13,"d":"2016-06-08","a":85,"b":40},
{"p":13,"d":"2016-06-09","a":80,"b":50,"c":20},
{"p":13,"d":"2016-06-10","a":85,"b":70,"c":30,"k":6},
{"p":13,"d":"2016-06-11","a":80,"b":40},
{"p":13,"d":"2016-06-12","a":85,"b":60,"c":20},
{"p":13,"d":"2016-06-13","a":80,"b":50,"k":6},
{"p":13,"d":"2016-06-14","a":85,"b":70,"c":40},
{"p":13,"d":"2016-06-15","a":80,"b":40,"c":20},
{"p":13,"d":"2016-06-16","a":85,"b":50,"k":6},
{"p":13,"d":"2016-06-17","a":80,"b":60,"c":30},
{"p":13,"d":"2016-06-18","a":85,"b":40},
{"p":13,"d":"2016-06-19","a":80,"b":70,"c":20},
{"p":13,"d":"2016-06-20","a":85,"b":50},
{"p":14,"d":"2016-05-05","a":40,"b":20},
{"p":14,"d":"2016-05-06","a":60,"b":40},
{"p":14,"d":"2016-05-07","a":70,"b":60,"k":6},
{"p":14,"d":"2016-05-08","a":80,"b":90,"c":20},
{"p":14,"d":"2016-05-09","a":90,"b":100,"c":10,"k":8},
{"p":14,"d":"2016-05-10","a":90,"b":150},
{"p":14,"d":"2016-05-11","a":95,"b":140,"c":10},
{"p":14,"d":"2016-05-12","a":90,"b":80,"c":20},
{"p":14,"d":"2016-05-13","a":85,"b":60,"k":6},
{"p":14,"d":"2016-05-14","a":80,"b":40},
{"p":14,"d":"2016-05-15","a":75,"b":30},
{"p":14,"d":"2016-05-16","a":70,"b":50,"k":6},
{"p":14,"d":"2016-05-17","a":65,"b":30},
{"p":14,"d":"2016-05-18","a":60,"b":20},
{"p":14,"d":"2016-05-19","a":40,"b":10},
{"p":14,"d":"2016-05-21","a":60,"b":20,"k":6},
{"p":14,"d":"2016-05-23","a":50,"b":10},
{"p":14,"d":"2016-05-26","a":70,"b":40,"c":20},
{"p":14,"d":"2016-05-27","a":75,"b":50,"c":40},
{"p":14,"d":"2016-05-28","a":80,"b":30,"c":60},
{"p":14,"d":"2016-05-29","a":75,"b":40,"k":6},
{"p":14,"d":"2016-05-30","a":80,"b":30},
{"p":14,"d":"2016-05-31","a":75,"b":50,"k":6},
{"p":14,"d":"2016-06-01","a":80,"b":40},
{"p":14,"d":"2016-06-02","a":75,"b":60,"c":10},
{"p":14,"d":"2016-06-03","a":80,"b":30},
{"p":14,"d":"2016-06-04","a":75,"b":70,"k":8},
{"p":14,"d":"2016-06-05","a":80,"b":40},
{"p":14,"d":"2016-06-06","a":85,"b":120,"c":10},
{"p":14,"d":"2016-06-07","a":80,"b":50},
{"p":14,"d":"2016-06-08","a":75,"b":60,"c":20,"k":6},
{"p":14,"d":"2016-06-09","a":80,"b":40},
{"p":14,"d":"2016-06-10","a":75,"b":70},
{"p":14,"d":"2016-06-11","a":80,"b":50,"c":10},
{"p":14,"d":"2016-06-12","a":75,"b":60,"k":6},
{"p":14,"d":"2016-06-13","a":80,"b":40},
{"p":14,"d":"2016-06-14","a":75,"b":70,"c":20},
{"p":14,"d":"2016-06-15","a":80,"b":50},
{"p":14,"d":"2016-06-16","a":75,"b":60,"k":6},
{"p":14,"d":"2016-06-17","a":80,"b":40},
{"p":14,"d":"2016-06-18","a":75,"b":70,"c":20,"k":6},
{"p":14,"d":"2016-06-19","a":80,"b":50},
{"p":14,"d":"2016-06-20","a":75,"b":60},
{"p":15,"d":"2016-05-06","a":20},
{"p":15,"d":"2016-05-07","a":40,"b":10},
{"p":15,"d":"2016-05-08","a":60,"b":20,"k":6},
{"p":15,"d":"2016-05-09","a":80,"b":30},
{"p":15,"d":"2016-05-10","a":100,"b":60},
{"p":15,"d":"2016-05-11","a":110,"b":200},
{"p":15,"d":"2016-05-12","a":110,"b":140},
{"p":15,"d":"2016-05-13","a":100,"b":60,"k":6},
{"p":15,"d":"2016-05-14","a":100,"b":40},
{"p":15,"d":"2016-05-15","a":90,"b":20},
{"p":15,"d":"2016-05-16","a":85,"b":30},
{"p":15,"d":"2016-05-17","a":80,"b":20},
{"p":15,"d":"2016-05-18","a":70,"b":10},
{"p":15,"d":"2016-05-19","a":60,"b":20},
{"p":15,"d":"2016-05-21","a":40,"b":10},
{"p":15,"d":"2016-05-23","a":50,"b":20},
{"p":15,"d":"2016-05-26","a":70,"b":30},
{"p":15,"d":"2016-05-27","a":75,"b":50,"k":6},
{"p":15,"d":"2016-05-28","a":80,"b":30},
{"p":15,"d":"2016-05-29","a":85,"b":60},
{"p":15,"d":"2016-05-30","a":80,"b":40},
{"p":15,"d":"2016-05-31","a":85,"b":30},
{"p":15,"d":"2016-06-01","a":80,"b":70},
{"p":15,"d":"2016-06-02","a":85,"b":40},
{"p":15,"d":"2016-06-03","a":90,"b":30},
{"p":15,"d":"2016-06-04","a":85,"b":90},
{"p":15,"d":"2016-06-05","a":80,"b":40,"k":6},
{"p":15,"d":"2016-06-06","a":85,"b":30},
{"p":15,"d":"2016-06-07","a":80,"b":50},
{"p":15,"d":"2016-06-08","a":85,"b":40,"c":20,"k":6},
{"p":15,"d":"2016-06-09","a":80,"b":30},
{"p":15,"d":"2016-06-10","a":85,"b":60},
{"p":15,"d":"2016-06-11","a":90,"b":40},
{"p":15,"d":"2016-06-12","a":85,"b":50},
{"p":15,"d":"2016-06-13","a":80,"b":30},
{"p":15,"d":"2016-06-14","a":85,"b":70},
{"p":15,"d":"2016-06-15","a":80,"b":40},
{"p":15,"d":"2016-06-16","a":85,"b":50},
{"p":15,"d":"2016-06-17","a":90,"b":100},
{"p":15,"d":"2016-06-18","a":85,"b":40},
{"p":15,"d":"2016-06-19","a":80,"b":30},
{"p":15,"d":"2016-06-20","a":85,"b":50},
{"p":16,"d":"2016-05-06","a":20,"b":10},
{"p":16,"d":"2016-05-07","a":50,"b":20,"k":6},
{"p":16,"d":"2016-05-08","a":60,"b":40,"k":6},
{"p":16,"d":"2016-05-09","a":70,"b":30},
{"p":16,"d":"2016-05-10","a":75,"b":60,"c":20},
{"p":16,"d":"2016-05-11","a":80,"b":90,"c":30},
{"p":16,"d":"2016-05-12","a":75,"b":50},
{"p":16,"d":"2016-05-13","a":80,"b":70,"c":20},
{"p":16,"d":"2016-05-14","a":70,"b":40,"k":6},
{"p":16,"d":"2016-05-15","a":65,"b":30},
{"p":16,"d":"2016-05-16","a":60,"b":20},
{"p":16,"d":"2016-05-17","a":55,"b":10},
{"p":16,"d":"2016-05-18","a":50,"b":20},
{"p":16,"d":"2016-05-19","a":40,"b":10},
{"p":16,"d":"2016-05-21","a":30},
{"p":16,"d":"2016-05-23","a":40,"b":10},
{"p":16,"d":"2016-05-26","a":55,"b":20},
{"p":16,"d":"2016-05-27","a":60,"b":30,"k":6},
{"p":16,"d":"2016-05-28","a":55,"b":20},
{"p":16,"d":"2016-05-29","a":60,"b":40,"k":6},
{"p":16,"d":"2016-05-30","a":55,"b":30},
{"p":16,"d":"2016-05-31","a":60,"b":20},
{"p":16,"d":"2016-06-01","a":65,"b":50,"k":6},
{"p":16,"d":"2016-06-02","a":60,"b":30},
{"p":16,"d":"2016-06-03","a":55,"b":40},
{"p":16,"d":"2016-06-04","a":60,"b":20},
{"p":16,"d":"2016-06-05","a":65,"b":90,"k":8},
{"p":16,"d":"2016-06-06","a":60,"b":30},
{"p":16,"d":"2016-06-07","a":55,"b":40},
{"p":16,"d":"2016-06-08","a":60,"b":30,"c":10},
{"p":16,"d":"2016-06-09","a":65,"b":20},
{"p":16,"d":"2016-06-10","a":60,"b":50,"k":6},
{"p":16,"d":"2016-06-11","a":55,"b":30},
{"p":16,"d":"2016-06-12","a":60,"b":40,"c":20},
{"p":16,"d":"2016-06-13","a":65,"b":30},
{"p":16,"d":"2016-06-14","a":60,"b":20,"k":6},
{"p":16,"d":"2016-06-15","a":55,"b":40},
{"p":16,"d":"2016-06-16","a":60,"b":30},
{"p":16,"d":"2016-06-17","a":65,"b":50,"c":10},
{"p":16,"d":"2016-06-18","a":60,"b":30},
{"p":16,"d":"2016-06-19","a":55,"b":40},
{"p":16,"d":"2016-06-20","a":60,"b":20},
{"p":17,"d":"2016-05-06","a":20},
{"p":17,"d":"2016-05-07","a":40,"b":10},
{"p":17,"d":"2016-05-08","a":60,"b":20},
{"p":17,"d":"2016-05-09","a":70,"b":30},
{"p":17,"d":"2016-05-10","a":80,"b":40},
{"p":17,"d":"2016-05-11","a":90,"b":60},
{"p":17,"d":"2016-05-12","a":100,"b":80},
{"p":17,"d":"2016-05-13","a":95,"b":110},
{"p":17,"d":"2016-05-14","a":90,"b":60},
{"p":17,"d":"2016-05-15","a":85,"b":40},
{"p":17,"d":"2016-05-16","a":75,"b":30},
{"p":17,"d":"2016-05-17","a":60,"b":20},
{"p":17,"d":"2016-05-18","a":50,"b":10},
{"p":17,"d":"2016-05-19","a":40},
{"p":17,"d":"2016-05-21","a":20,"k":6},
{"p":17,"d":"2016-05-23","a":30,"b":10},
{"p":17,"d":"2016-05-26","a":40,"b":20,"k":6},
{"p":17,"d":"2016-05-27","a":50,"b":10},
{"p":17,"d":"2016-05-28","a":55,"b":30,"k":6},
{"p":17,"d":"2016-05-29","a":50,"b":20},
{"p":17,"d":"2016-05-30","a":55,"b":10},
{"p":17,"d":"2016-05-31","a":50,"b":20},
{"p":17,"d":"2016-06-01","a":55,"b":30},
{"p":17,"d":"2016-06-02","a":60,"b":20,"k":6},
{"p":17,"d":"2016-06-03","a":55,"b":40},
{"p":17,"d":"2016-06-04","a":60,"b":20},
{"p":17,"d":"2016-06-05","a":55,"b":30,"k":6},
{"p":17,"d":"2016-06-06","a":60,"b":20},
{"p":17,"d":"2016-06-07","a":55,"b":50},
{"p":17,"d":"2016-06-08","a":60,"b":20},
{"p":17,"d":"2016-06-09","a":65,"b":30,"k":6},
{"p":17,"d":"2016-06-10","a":60,"b":20},
{"p":17,"d":"2016-06-11","a":55,"b":40},
{"p":17,"d":"2016-06-12","a":60,"b":20},
{"p":17,"d":"2016-06-13","a":65,"b":30},
{"p":17,"d":"2016-06-14","a":60,"b":20,"k":6},
{"p":17,"d":"2016-06-15","a":55,"b":40},
{"p":17,"d":"2016-06-16","a":60,"b":30},
{"p":17,"d":"2016-06-17","a":55,"b":20,"c":10},
{"p":17,"d":"2016-06-18","a":60,"b":30},
{"p":17,"d":"2016-06-19","a":55,"b":20},
{"p":17,"d":"2016-06-20","a":50,"b":30},
{"p":18,"d":"2016-05-06","a":10},
{"p":18,"d":"2016-05-07","a":20,"b":10},
{"p":18,"d":"2016-05-08","a":30,"b":10,"k":6},
{"p":18,"d":"2016-05-09","a":40,"b":20},
{"p":18,"d":"2016-05-10","a":50,"b":40},
{"p":18,"d":"2016-05-11","a":55,"b":70,"k":6},
{"p":18,"d":"2016-05-12","a":50,"b":60},
{"p":18,"d":"2016-05-13","a":55,"b":40,"k":6},
{"p":18,"d":"2016-05-14","a":50,"b":30},
{"p":18,"d":"2016-05-15","a":45,"b":20},
{"p":18,"d":"2016-05-16","a":40,"b":10},
{"p":18,"d":"2016-05-17","a":35},
{"p":18,"d":"2016-05-18","a":30,"b":10},
{"p":18,"d":"2016-05-19","a":25},
{"p":18,"d":"2016-05-23","a":10},
{"p":18,"d":"2016-05-27","a":20,"b":10},
{"p":18,"d":"2016-05-28","a":30,"b":20,"c":10},
{"p":18,"d":"2016-05-29","a":35,"b":10,"k":6},
{"p":18,"d":"2016-05-30","a":30},
{"p":18,"d":"2016-05-31","a":35,"b":20},
{"p":18,"d":"2016-06-01","a":30,"b":10},
{"p":18,"d":"2016-06-02","a":35,"b":40,"k":6},
{"p":18,"d":"2016-06-03","a":30,"b":20},
{"p":18,"d":"2016-06-04","a":35,"b":10},
{"p":18,"d":"2016-06-05","a":30,"b":30},
{"p":18,"d":"2016-06-06","a":35,"b":10,"k":6},
{"p":18,"d":"2016-06-07","a":30,"b":20},
{"p":18,"d":"2016-06-08","a":35,"b":10},
{"p":18,"d":"2016-06-09","a":30,"b":20,"k":6},
{"p":18,"d":"2016-06-10","a":35,"b":10},
{"p":18,"d":"2016-06-11","a":30,"b":20},
{"p":18,"d":"2016-06-12","a":35,"b":30},
{"p":18,"d":"2016-06-13","a":30,"b":10},
{"p":18,"d":"2016-06-14","a":35,"b":20,"k":6},
{"p":18,"d":"2016-06-15","a":30,"b":10},
{"p":18,"d":"2016-06-16","a":35,"b":20},
{"p":18,"d":"2016-06-17","a":30,"b":30},
{"p":18,"d":"2016-06-18","a":35,"b":10},
{"p":18,"d":"2016-06-19","a":40,"b":20,"k":6},
{"p":18,"d":"2016-06-20","a":30,"b":10}
]
},
"data":{"name":"yield"},
"transform":[
{"lookup":"p","from":{"data":{"name":"panels"},"key":"p","fields":["name","lab","row","col"]}},
{"fold":["a","b","c","k"],"as":["part","value"]},
{"filter":"isValid(datum.value) && datum.value > 0"}
],
"title":{"text":"Yield (lbs/acre)","orient":"bottom","anchor":"middle","angle":180,"baseline":"bottom","fontSize":42,"fontWeight":"normal","font":"Liberation Sans","color":"#000000","offset":22},
"facet":{
"row":{"field":"row","type":"ordinal","header":null},
"column":{"field":"col","type":"ordinal","header":null}
},
"spacing":{"row":15,"column":18},
"spec":{
"width":211,
"height":263,
"encoding":{
"x":{"field":"value","type":"quantitative","scale":{"domain":[-22,754],"reverse":true,"nice":false,"zero":false},
"axis":{"values":[0,100,200,300,400,500],"title":null,"labelAngle":270,"labelAlign":"right","labelBaseline":"middle","labelFontSize":29,"labelPadding":4,"labelOverlap":false,"labelFlush":false,"tickSize":6,"grid":true}},
"y":{"field":"d","type":"temporal","scale":{"type":"utc","domain":[{"year":2016,"month":5,"date":3,"hours":12,"utc":true},{"year":2016,"month":6,"date":22,"hours":12,"utc":true}]},
"axis":{"orient":"right","title":null,"values":[{"year":2016,"month":5,"date":6,"utc":true},{"year":2016,"month":5,"date":28,"utc":true},{"year":2016,"month":6,"date":19,"utc":true}],"format":"%-m/%d","labelAngle":214,"labelAlign":"right","labelBaseline":"middle","labelFontSize":30,"labelPadding":4,"labelOverlap":false,"tickSize":6,"grid":true}}
},
"layer":[
{"mark":{"type":"bar","orient":"horizontal","size":3.8},
"encoding":{
"color":{"field":"part","type":"nominal","scale":{"domain":["a","b","c","k"],"range":["#3ED3CE","#F6A843","#7A1F1C","#1E1E1E"]},"legend":null},
"order":{"field":"part","sort":"ascending"}
}},
{"transform":[{"window":[{"op":"row_number","as":"rn"}],"groupby":["p"]},{"filter":"datum.rn == 1"}],
"mark":{"type":"rect","fill":"#D9D9D9","stroke":"#333333","strokeWidth":1},
"encoding":{"x":{"datum":548},"x2":{"datum":754},"y":null}},
{"transform":[{"window":[{"op":"row_number","as":"rn"}],"groupby":["p"]},{"filter":"datum.rn == 1"}],
"mark":{"type":"text","angle":270,"align":"center","baseline":"middle","fontSize":34,"font":"Liberation Sans","color":"#1A1A1A"},
"encoding":{"x":{"datum":651},"y":{"datum":{"year":2016,"month":5,"date":28,"hours":12,"utc":true}},"text":{"field":"name"}}},
{"transform":[{"window":[{"op":"row_number","as":"rn"}],"groupby":["p"]},{"filter":"datum.rn == 1"}],
"mark":{"type":"text","angle":270,"align":"right","baseline":"middle","fontSize":31,"font":"Liberation Sans","color":"#000000"},
"encoding":{"x":{"datum":440},"y":{"datum":{"year":2016,"month":6,"date":22,"utc":true}},"text":{"field":"lab"}}}
]
},
"config":{
"font":"Liberation Sans",
"view":{"stroke":"#333333","strokeWidth":1},
"axis":{"labelFont":"Liberation Sans","labelColor":"#333333","tickColor":"#333333","domain":false,"gridColor":"#F2F2F2","gridWidth":1}
}
}
